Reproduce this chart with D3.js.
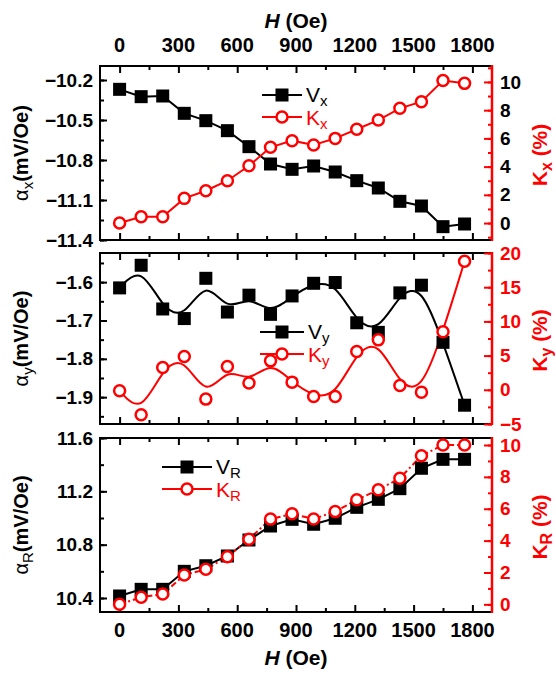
<!DOCTYPE html>
<html>
<head>
<meta charset="utf-8">
<script src="https://cdn.jsdelivr.net/npm/d3@7"></script>
<style>
body { margin: 0; background: #fff; }
text { font-family: "Liberation Sans", Arial, sans-serif; }
</style>
</head>
<body>
<svg id="chart" width="556" height="673"></svg>
<script>
// field values (Oe)
const H = [0, 110, 220, 330, 440, 550, 660, 770, 880, 990, 1100, 1210, 1320, 1430, 1540, 1650, 1760];

// x component
const Vx = [-10.27, -10.325, -10.32, -10.45, -10.505, -10.58, -10.70, -10.83, -10.87, -10.845, -10.89, -10.955, -11.01, -11.11, -11.145, -11.30, -11.28];
const Kx = [0, 0.45, 0.45, 1.75, 2.29, 3.0, 4.06, 5.37, 5.84, 5.53, 6.0, 6.65, 7.3, 8.13, 8.6, 10.1, 9.9];
// y component
const Vy = [-1.615, -1.556, -1.670, -1.695, -1.590, -1.678, -1.634, -1.684, -1.636, -1.603, -1.601, -1.706, -1.731, -1.628, -1.608, -1.757, -1.921];
const Ky = [-0.15, -3.65, 3.26, 4.86, -1.36, 3.4, 0.98, 4.23, 1.12, -0.98, -0.98, 5.6, 7.3, 0.63, -0.34, 8.5, 18.8];
// R
const VR = [10.415, 10.465, 10.465, 10.60, 10.642, 10.715, 10.835, 10.94, 10.99, 10.953, 10.998, 11.08, 11.14, 11.22, 11.373, 11.44, 11.44];
const KR = [0, 0.44, 0.65, 1.84, 2.2, 2.99, 4.09, 5.35, 5.68, 5.36, 5.82, 6.56, 7.19, 7.92, 9.33, 10.0, 10.0];

// tick labels
const hTicks = [0, 300, 600, 900, 1200, 1500, 1800];
const vxTicks = [-10.2, -10.5, -10.8, -11.1, -11.4];
const kxTicks = [0, 2, 4, 6, 8, 10];
const vyTicks = [-1.6, -1.7, -1.8, -1.9];
const kyTicks = [-5, 0, 5, 10, 15, 20];
const vrTicks = [10.4, 10.8, 11.2, 11.6];
const krTicks = [0, 2, 4, 6, 8, 10];

const RED = "#ff0000";
const svg = d3.select("#chart");

const x = d3.scaleLinear().domain([-100, 1900]).range([100, 492]);
const hMinor = d3.range(0, 1900, 150);

const panels = [
    {top: 66, bottom: 240, V: Vx, K: Kx, yDom: [-11.4, -10.095], kDom: [-1.2, 11.13],
     yTicks: vxTicks, yMinor: d3.range(-11.4, -10.1, 0.15), kTicks: kxTicks, kMinor: d3.range(-1, 12, 1),
     sub: "x", kLabelColor: "#000", curve: d3.curveLinear, dash: null,
     leg: {x1: 262, x2: 302, y: 95}},
    {top: 253, bottom: 424, V: Vy, K: Ky, yDom: [-1.970, -1.524], kDom: [-5, 20],
     yTicks: vyTicks, yMinor: d3.range(-1.95, -1.52, 0.05), kTicks: kyTicks, kMinor: d3.range(-5, 20.1, 2.5),
     sub: "y", kLabelColor: RED, curve: d3.curveBasis, dash: null,
     leg: {x1: 260, x2: 304, y: 332}},
    {top: 438, bottom: 612, V: VR, K: KR, yDom: [10.295, 11.6], kDom: [-0.48, 10.44],
     yTicks: vrTicks, yMinor: d3.range(10.4, 11.61, 0.2), kTicks: krTicks, kMinor: d3.range(0, 10.1, 1),
     sub: "R", kLabelColor: RED, curve: d3.curveLinear, dash: "6,3,2,3",
     leg: {x1: 162, x2: 212, y: 467}}
];

function subText(sel, main, sub, subSize, dy) {
    sel.append("tspan").text(main);
    sel.append("tspan").attr("font-size", subSize).attr("dy", dy).text(sub);
}

panels.forEach((p, i) => {
    const y = d3.scaleLinear().domain(p.yDom).range([p.bottom, p.top]);
    const k = d3.scaleLinear().domain(p.kDom).range([p.bottom, p.top]);
    const g = svg.append("g");

    // x ticks on bottom and top frame edges, pointing inside
    [[d3.axisTop, p.bottom, -1], [d3.axisBottom, p.top, 1]].forEach(([ax, ypos, dir]) => {
        g.append("g").attr("transform", `translate(0,${ypos})`)
            .call(ax(x).tickValues(hMinor).tickSizeOuter(0).tickFormat(""))
            .call(s => s.select(".domain").remove())
            .call(s => s.selectAll(".tick line")
                .attr("y2", v => dir * ((v % 300 === 0) ? 7 : 4))
                .attr("stroke", "#000").attr("stroke-width", 2));
    });

    // left axis
    g.append("g").attr("transform", "translate(100,0)")
        .call(d3.axisLeft(y).tickValues(p.yMinor).tickSizeInner(-4).tickSizeOuter(0).tickFormat(""))
        .call(s => s.select(".domain").remove())
        .selectAll("line").attr("stroke-width", 2);
    g.append("g").attr("transform", "translate(100,0)")
        .call(d3.axisLeft(y).tickValues(p.yTicks).tickSizeInner(-7).tickSizeOuter(0).tickPadding(7)
            .tickFormat(d3.format(".1f")))
        .call(s => s.select(".domain").remove())
        .call(s => s.selectAll("line").attr("stroke-width", 2))
        .call(s => s.selectAll("text").attr("font-size", 19).attr("font-weight", "bold").attr("fill", "#000")
            .attr("font-family", "Liberation Sans, Arial, sans-serif"));

    // frame
    g.append("rect").attr("x", 100).attr("y", p.top).attr("width", 392).attr("height", p.bottom - p.top)
        .attr("fill", "none").attr("stroke", "#000").attr("stroke-width", 2);

    // right axis (red)
    g.append("g").attr("transform", "translate(492,0)")
        .call(d3.axisRight(k).tickValues(p.kMinor).tickSizeInner(-4).tickSizeOuter(0).tickFormat(""))
        .call(s => s.select(".domain").remove())
        .selectAll("line").attr("stroke", RED).attr("stroke-width", 2);
    g.append("g").attr("transform", "translate(492,0)")
        .call(d3.axisRight(k).tickValues(p.kTicks).tickSizeInner(-8).tickSizeOuter(0).tickPadding(8))
        .call(s => s.select(".domain").remove())
        .call(s => s.selectAll("line").attr("stroke", RED).attr("stroke-width", 2))
        .call(s => s.selectAll("text").attr("font-size", 19).attr("font-weight", "bold").attr("fill", p.kLabelColor)
            .attr("font-family", "Liberation Sans, Arial, sans-serif"));
    g.append("line").attr("x1", 492).attr("x2", 492).attr("y1", p.top - 1).attr("y2", p.bottom + 1)
        .attr("stroke", RED).attr("stroke-width", 2.5);

    // data lines
    const vLine = d3.line().x((d, j) => x(H[j])).y(d => y(d)).curve(p.curve);
    const kLine = d3.line().x((d, j) => x(H[j])).y(d => k(d)).curve(p.curve);
    g.append("path").attr("d", vLine(p.V)).attr("fill", "none").attr("stroke", "#000").attr("stroke-width", 2);
    g.append("path").attr("d", kLine(p.K)).attr("fill", "none").attr("stroke", RED).attr("stroke-width", 2)
        .attr("stroke-dasharray", p.dash);

    // markers
    g.selectAll(".sq").data(p.V).enter().append("rect").attr("class", "sq")
        .attr("x", (d, j) => x(H[j]) - 6.5).attr("y", d => y(d) - 6.5)
        .attr("width", 13).attr("height", 13).attr("fill", "#000");
    g.selectAll(".ci").data(p.K).enter().append("circle").attr("class", "ci")
        .attr("cx", (d, j) => x(H[j])).attr("cy", d => k(d)).attr("r", 5.5)
        .attr("fill", "#fff").attr("stroke", RED).attr("stroke-width", 2.5);

    // legend
    const L = p.leg, mx = (L.x1 + L.x2) / 2;
    g.append("line").attr("x1", L.x1).attr("x2", L.x2).attr("y1", L.y).attr("y2", L.y)
        .attr("stroke", "#000").attr("stroke-width", 2);
    g.append("rect").attr("x", mx - 6.5).attr("y", L.y - 6.5).attr("width", 13).attr("height", 13).attr("fill", "#000");
    g.append("line").attr("x1", L.x1).attr("x2", L.x2).attr("y1", L.y + 22).attr("y2", L.y + 22)
        .attr("stroke", RED).attr("stroke-width", 2);
    g.append("circle").attr("cx", mx).attr("cy", L.y + 22).attr("r", 5.5)
        .attr("fill", "#fff").attr("stroke", RED).attr("stroke-width", 2.5);
    g.append("text").attr("x", L.x2 + 4).attr("y", L.y + 7).attr("font-size", 21).attr("fill", "#000")
        .call(s => subText(s, "V", p.sub, 15, 4));
    g.append("text").attr("x", L.x2 + 4).attr("y", L.y + 30).attr("font-size", 21).attr("fill", RED)
        .call(s => subText(s, "K", p.sub, 15, 4));

    // axis titles
    const cy = (p.top + p.bottom) / 2;
    g.append("text").attr("transform", `translate(28,${cy}) rotate(-90)`).attr("text-anchor", "middle")
        .attr("font-size", 20).attr("font-weight", "bold").attr("fill", "#000")
        .call(s => {
            s.append("tspan").attr("font-weight", "normal").text("α");
            s.append("tspan").attr("font-size", 15).attr("font-weight", "normal").attr("dy", 5).text(p.sub);
            s.append("tspan").attr("dy", -5).text("(mV/Oe)");
        });
    g.append("text").attr("transform", `translate(547,${cy + 2}) rotate(-90)`).attr("text-anchor", "middle")
        .attr("font-size", 21).attr("font-weight", "bold").attr("fill", RED)
        .call(s => {
            s.append("tspan").text("K");
            s.append("tspan").attr("font-size", 16).attr("dy", 5).text(p.sub);
            s.append("tspan").attr("dy", -5).text(" (%)");
        });
});

// top and bottom H tick labels
[45, 630].forEach(ty => {
    svg.append("g").selectAll("text").data(hTicks).enter().append("text")
        .attr("x", d => x(d)).attr("y", ty + 7).attr("text-anchor", "middle")
        .attr("font-size", 20).attr("font-weight", "bold").text(d => d);
});
[21, 658].forEach(ty => {
    svg.append("text").attr("x", x(900)).attr("y", ty + 7).attr("text-anchor", "middle")
        .attr("font-size", 21).attr("font-weight", "bold")
        .call(s => {
            s.append("tspan").attr("font-style", "italic").text("H");
            s.append("tspan").text(" (Oe)");
        });
});
</script>
</body>
</html>
